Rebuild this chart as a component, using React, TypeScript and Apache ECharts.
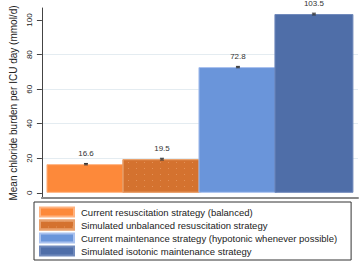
import React, { useEffect, useRef } from "react";
import * as echarts from "echarts";

const seriesNames = [
  "Current resuscitation strategy (balanced)",
  "Simulated unbalanced resuscitation strategy",
  "Current maintenance strategy (hypotonic whenever possible)",
  "Simulated isotonic maintenance strategy",
];
const means = [16.6, 19.5, 72.8, 103.5];
const ciLow = [16.2, 19.0, 72.4, 103.0];
const ciHigh = [17.0, 20.0, 73.2, 104.0];
const yTicks = [0, 20, 40, 60, 80, 100];
const yTitle = "Mean chloride burden per ICU day (mmol/d)";

const fills = ["#fd893a", "#d4722f", "#6a95da", "#4f6ea8"];
const borders = ["#ffb27e", "#e8a06c", "#a9c1ee", "#7089bb"];

export default function App() {
  const ref = useRef<HTMLDivElement>(null);
  useEffect(() => {
    if (!ref.current) return;
    const chart = echarts.init(ref.current, undefined, { renderer: "svg" });
    const font = "Liberation Sans, Arial, sans-serif";
    const barSeries = means.map((v, i) => ({
      type: "bar",
      name: seriesNames[i],
      data: [[i, v]],
      barWidth: 79,
      barGap: "-100%",
      itemStyle: {
        color: fills[i],
        borderColor: borders[i],
        borderWidth: 1,
        ...(i === 1
          ? {
              decal: {
                symbol: "rect",
                symbolSize: 1,
                dashArrayX: [1, 7],
                dashArrayY: [1, 5],
                rotation: 0,
                color: "rgba(240,170,120,0.55)",
              },
            }
          : {}),
      },
      label: {
        show: true,
        position: "top",
        distance: 7,
        fontSize: 8,
        fontFamily: font,
        color: "#333",
        textBorderWidth: 0,
        formatter: () => v.toFixed(1),
      },
    }));
    const errData = means.map((_, i) => [i, ciLow[i], ciHigh[i]]);
    chart.setOption({
      animation: false,
      grid: { left: 26, right: 1, top: 8, bottom: 63, containLabel: false },
      legend: {
        orient: "vertical",
        left: 34,
        top: 202,
        data: seriesNames,
        borderColor: "#333",
        borderWidth: 1,
        padding: [4, 14, 3, 5],
        itemWidth: 34,
        itemHeight: 9,
        itemGap: 1,
        icon: "rect",
        textStyle: {
          fontSize: 9.5,
          lineHeight: 12,
          fontFamily: font,
          color: "#222",
          padding: [0, 0, 0, 2],
        },
      },
      xAxis: {
        type: "value",
        min: -0.58,
        max: 3.58,
        axisLine: { show: true, onZero: false, lineStyle: { color: "#8a8a8a", width: 2 } },
        axisTick: { show: false },
        axisLabel: { show: false },
        splitLine: { show: false },
      },
      yAxis: {
        type: "value",
        min: -3,
        max: 107,
        name: yTitle,
        nameLocation: "middle",
        nameGap: 18,
        nameTextStyle: { fontSize: 10, fontFamily: font, color: "#222" },
        axisLine: { show: true, onZero: false, lineStyle: { color: "#444", width: 1 } },
        axisTick: {
          show: true,
          length: 5,
          customValues: yTicks,
          lineStyle: { color: "#444" },
        },
        axisLabel: {
          rotate: 90,
          margin: 8,
          fontSize: 8,
          fontFamily: font,
          color: "#222",
          customValues: yTicks,
        },
        splitLine: {
          show: true,
          showMinLine: false,
          showMaxLine: false,
          lineStyle: { color: "#e4ecf1", width: 1 },
        },
      },
      series: [
        ...barSeries,
        {
          type: "custom",
          z: 10,
          data: errData,
          encode: { x: 0, y: [1, 2] },
          renderItem: (params: any, api: any) => {
            const x = api.value(0);
            const lo = api.coord([x, api.value(1)]);
            const hi = api.coord([x, api.value(2)]);
            const w = 2;
            return {
              type: "group",
              children: [
                { type: "line", shape: { x1: lo[0], y1: lo[1], x2: hi[0], y2: hi[1] }, style: { stroke: "#333", lineWidth: 1 } },
                { type: "line", shape: { x1: lo[0] - w, y1: lo[1], x2: lo[0] + w, y2: lo[1] }, style: { stroke: "#333", lineWidth: 1 } },
                { type: "line", shape: { x1: hi[0] - w, y1: hi[1], x2: hi[0] + w, y2: hi[1] }, style: { stroke: "#333", lineWidth: 1 } },
              ],
            };
          },
        },
      ],
    });
    return () => chart.dispose();
  }, []);
  return (
    <div
      ref={ref}
      style={{ position: "absolute", left: 0, top: 0, width: 359, height: 261, background: "#fff" }}
    />
  );
}
